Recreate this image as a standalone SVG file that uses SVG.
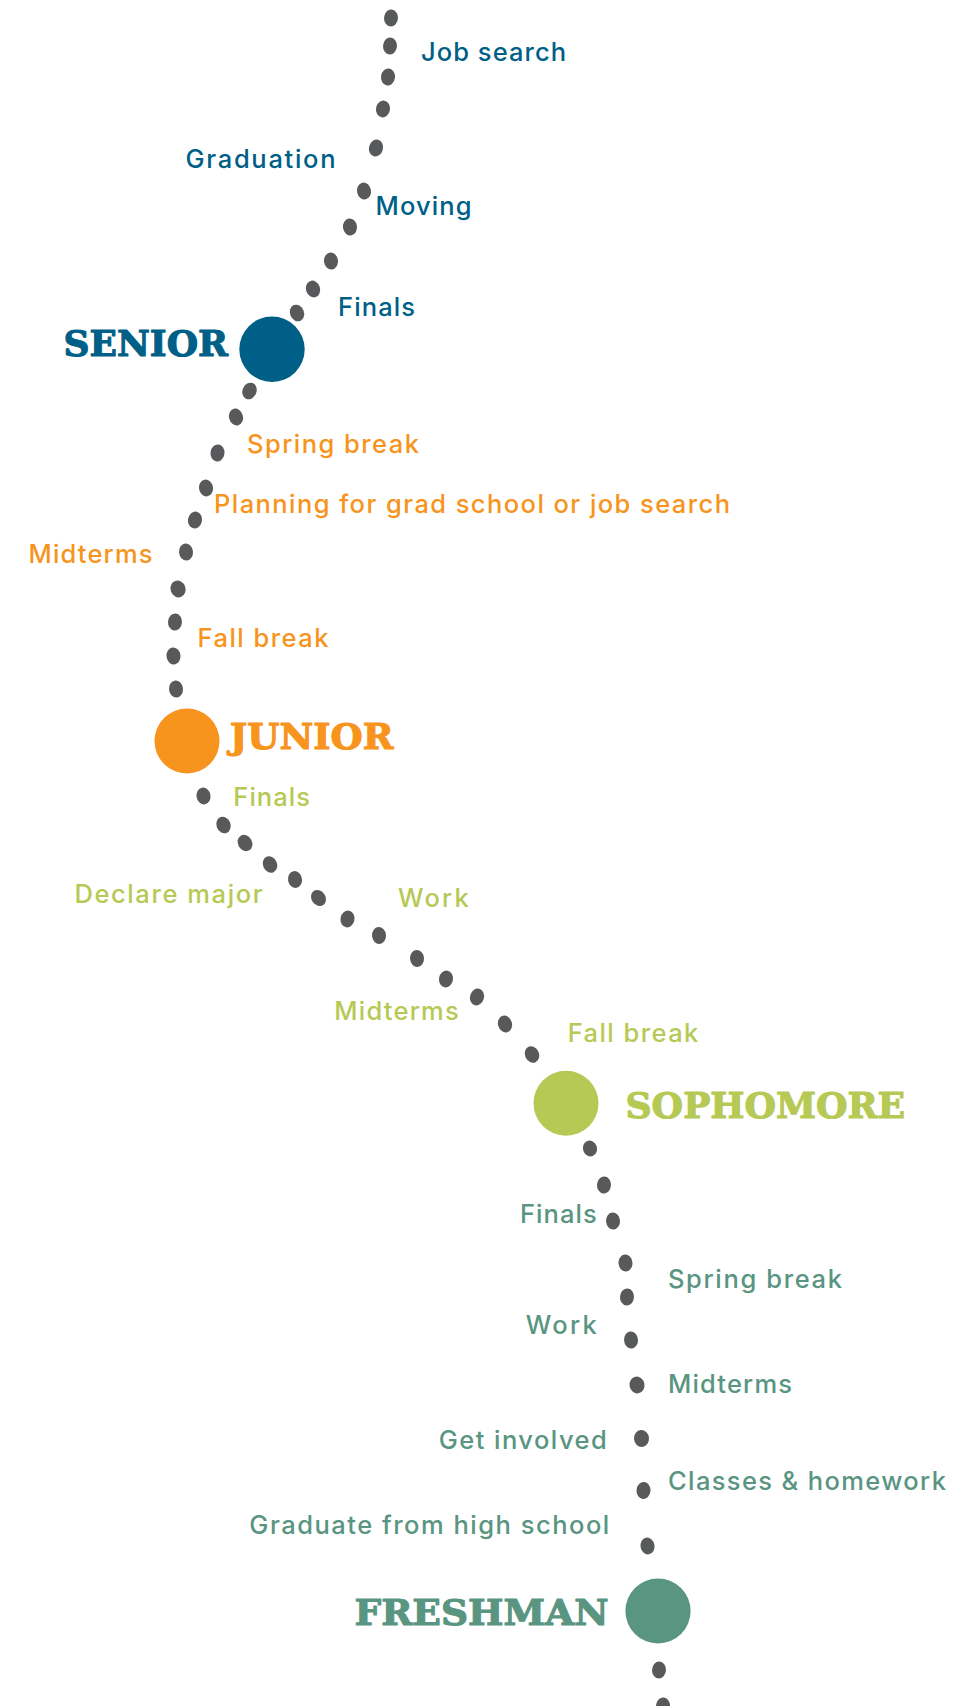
<svg xmlns="http://www.w3.org/2000/svg" width="973" height="1706" viewBox="0 0 973 1706">
<style>
.lbl{font-family:Inter,"Open Sans","Liberation Sans",sans-serif;font-size:25.5px;font-weight:500}
.hd{font-family:"DejaVu Serif","Liberation Serif",serif;font-size:35px;font-weight:bold;stroke-width:1.1px;stroke-linejoin:round}
.dot{fill:#58595b}
.sen{fill:#005f87;stroke:#005f87}
.jun{fill:#f7941d;stroke:#f7941d}
.sop{fill:#b6c955;stroke:#b6c955}
.fre{fill:#599581;stroke:#599581}
circle.sen,circle.jun,circle.sop,circle.fre,.lbl{stroke:none}
</style>
<rect width="973" height="1706" fill="#ffffff"/>
<g id="connectors">
<ellipse class="dot" cx="391" cy="18" rx="7" ry="8.5" transform="rotate(3 391 18)"/>
<ellipse class="dot" cx="390" cy="46" rx="7" ry="8.5" transform="rotate(3 390 46)"/>
<ellipse class="dot" cx="388" cy="77" rx="7" ry="8.5" transform="rotate(8 388 77)"/>
<ellipse class="dot" cx="383" cy="109" rx="7" ry="8.5" transform="rotate(10 383 109)"/>
<ellipse class="dot" cx="376" cy="148" rx="7" ry="8.5" transform="rotate(14 376 148)"/>
<ellipse class="dot" cx="364" cy="191" rx="7" ry="8.5" transform="rotate(-12 364 191)"/>
<ellipse class="dot" cx="350" cy="227" rx="7" ry="8.5" transform="rotate(-8 350 227)"/>
<ellipse class="dot" cx="331" cy="261" rx="7" ry="8.5" transform="rotate(-6 331 261)"/>
<ellipse class="dot" cx="313" cy="289" rx="7" ry="8.5" transform="rotate(-18 313 289)"/>
<ellipse class="dot" cx="297" cy="313" rx="7" ry="8.5" transform="rotate(-22 297 313)"/>
<ellipse class="dot" cx="249.5" cy="391" rx="7" ry="8.5" transform="rotate(22 249.5 391)"/>
<ellipse class="dot" cx="236" cy="417" rx="7" ry="8.5" transform="rotate(-15 236 417)"/>
<ellipse class="dot" cx="217.5" cy="453" rx="7" ry="8.5" transform="rotate(8 217.5 453)"/>
<ellipse class="dot" cx="206" cy="488" rx="7" ry="8.5" transform="rotate(-10 206 488)"/>
<ellipse class="dot" cx="195" cy="520" rx="7" ry="8.5" transform="rotate(12 195 520)"/>
<ellipse class="dot" cx="186" cy="552" rx="7" ry="8.5" transform="rotate(-6 186 552)"/>
<ellipse class="dot" cx="178" cy="589" rx="7.5" ry="8.5" transform="rotate(-20 178 589)"/>
<ellipse class="dot" cx="175" cy="622" rx="7" ry="8.5" transform="rotate(5 175 622)"/>
<ellipse class="dot" cx="173.5" cy="656" rx="7" ry="8.5" transform="rotate(-8 173.5 656)"/>
<ellipse class="dot" cx="176" cy="689" rx="7" ry="8.5" transform="rotate(-6 176 689)"/>
<ellipse class="dot" cx="203.5" cy="796" rx="7" ry="8.5" transform="rotate(-10 203.5 796)"/>
<ellipse class="dot" cx="223.5" cy="825" rx="7" ry="8.5" transform="rotate(-20 223.5 825)"/>
<ellipse class="dot" cx="245" cy="843" rx="7" ry="8.5" transform="rotate(-30 245 843)"/>
<ellipse class="dot" cx="270" cy="864.5" rx="7" ry="8.5" transform="rotate(-25 270 864.5)"/>
<ellipse class="dot" cx="295" cy="879.5" rx="7" ry="8.5" transform="rotate(-10 295 879.5)"/>
<ellipse class="dot" cx="318.5" cy="898" rx="7" ry="8.5" transform="rotate(-35 318.5 898)"/>
<ellipse class="dot" cx="347.5" cy="919" rx="7" ry="8.5" transform="rotate(10 347.5 919)"/>
<ellipse class="dot" cx="379" cy="935.5" rx="7" ry="8.5" transform="rotate(-5 379 935.5)"/>
<ellipse class="dot" cx="417" cy="958.5" rx="7" ry="8.5" transform="rotate(-5 417 958.5)"/>
<ellipse class="dot" cx="446" cy="979" rx="7" ry="8.5" transform="rotate(10 446 979)"/>
<ellipse class="dot" cx="477" cy="997" rx="7" ry="8.5" transform="rotate(15 477 997)"/>
<ellipse class="dot" cx="505" cy="1024" rx="7" ry="8.5" transform="rotate(-15 505 1024)"/>
<ellipse class="dot" cx="532" cy="1054.5" rx="7" ry="8.5" transform="rotate(-25 532 1054.5)"/>
<ellipse class="dot" cx="590" cy="1148.5" rx="7" ry="8" transform="rotate(-20 590 1148.5)"/>
<ellipse class="dot" cx="604" cy="1185" rx="7" ry="8.5" transform="rotate(5 604 1185)"/>
<ellipse class="dot" cx="613" cy="1221" rx="7" ry="8.5" transform="rotate(-5 613 1221)"/>
<ellipse class="dot" cx="625.5" cy="1263" rx="7" ry="8.5" transform="rotate(-5 625.5 1263)"/>
<ellipse class="dot" cx="627" cy="1297" rx="7" ry="8.5" transform="rotate(5 627 1297)"/>
<ellipse class="dot" cx="631" cy="1340" rx="7" ry="8.5" transform="rotate(-5 631 1340)"/>
<ellipse class="dot" cx="637" cy="1385" rx="7.5" ry="8.5" transform="rotate(-10 637 1385)"/>
<ellipse class="dot" cx="641.5" cy="1438.5" rx="7.5" ry="8.5" transform="rotate(-5 641.5 1438.5)"/>
<ellipse class="dot" cx="643.5" cy="1490.5" rx="7" ry="8.5" transform="rotate(5 643.5 1490.5)"/>
<ellipse class="dot" cx="647.5" cy="1546" rx="7" ry="8.5" transform="rotate(-10 647.5 1546)"/>
<ellipse class="dot" cx="659" cy="1670" rx="7" ry="8.5" transform="rotate(3 659 1670)"/>
<ellipse class="dot" cx="663" cy="1706" rx="7" ry="8.5" transform="rotate(5 663 1706)"/>
</g>
<g id="senior">
<circle class="sen" cx="272" cy="349.3" r="32.7"/>
<text class="hd sen" x="63.5" y="356" textLength="164.5" lengthAdjust="spacingAndGlyphs">SENIOR</text>
<text class="lbl sen" x="421" y="61" textLength="145">Job search</text>
<text class="lbl sen" x="185.5" y="168" textLength="150">Graduation</text>
<text class="lbl sen" x="375.5" y="215" textLength="96">Moving</text>
<text class="lbl sen" x="338" y="316" textLength="77">Finals</text>
</g>
<g id="junior">
<circle class="jun" cx="187" cy="741" r="32.5"/>
<text class="hd jun" x="229.8" y="749.3" textLength="163.7" lengthAdjust="spacingAndGlyphs">JUNIOR</text>
<text class="lbl jun" x="247" y="452.5" textLength="172">Spring break</text>
<text class="lbl jun" x="214" y="512.7" textLength="516">Planning for grad school or job search</text>
<text class="lbl jun" x="28.5" y="562.7" textLength="124">Midterms</text>
<text class="lbl jun" x="197.5" y="646.7" textLength="131">Fall break</text>
</g>
<g id="sophomore">
<circle class="sop" cx="566" cy="1103.3" r="32.5"/>
<text class="hd sop" x="625.5" y="1118.3" textLength="279.7" lengthAdjust="spacingAndGlyphs">SOPHOMORE</text>
<text class="lbl sop" x="233.3" y="806" textLength="76.7">Finals</text>
<text class="lbl sop" x="74.5" y="902.5" textLength="188">Declare major</text>
<text class="lbl sop" x="398" y="906.7" textLength="70.7">Work</text>
<text class="lbl sop" x="334.3" y="1020" textLength="124.4">Midterms</text>
<text class="lbl sop" x="567.7" y="1041.7" textLength="130.6">Fall break</text>
</g>
<g id="freshman">
<circle class="fre" cx="658" cy="1611" r="32.6"/>
<text class="hd fre" x="354.5" y="1625" textLength="254" lengthAdjust="spacingAndGlyphs">FRESHMAN</text>
<text class="lbl fre" x="520" y="1222.7" textLength="76.7">Finals</text>
<text class="lbl fre" x="668" y="1288" textLength="174">Spring break</text>
<text class="lbl fre" x="525.7" y="1334" textLength="71">Work</text>
<text class="lbl fre" x="668" y="1393" textLength="124">Midterms</text>
<text class="lbl fre" x="438.7" y="1449.3" textLength="168">Get involved</text>
<text class="lbl fre" x="668" y="1489.5" textLength="278">Classes &amp; homework</text>
<text class="lbl fre" x="249.3" y="1534.3" textLength="360">Graduate from high school</text>
</g>
</svg>
